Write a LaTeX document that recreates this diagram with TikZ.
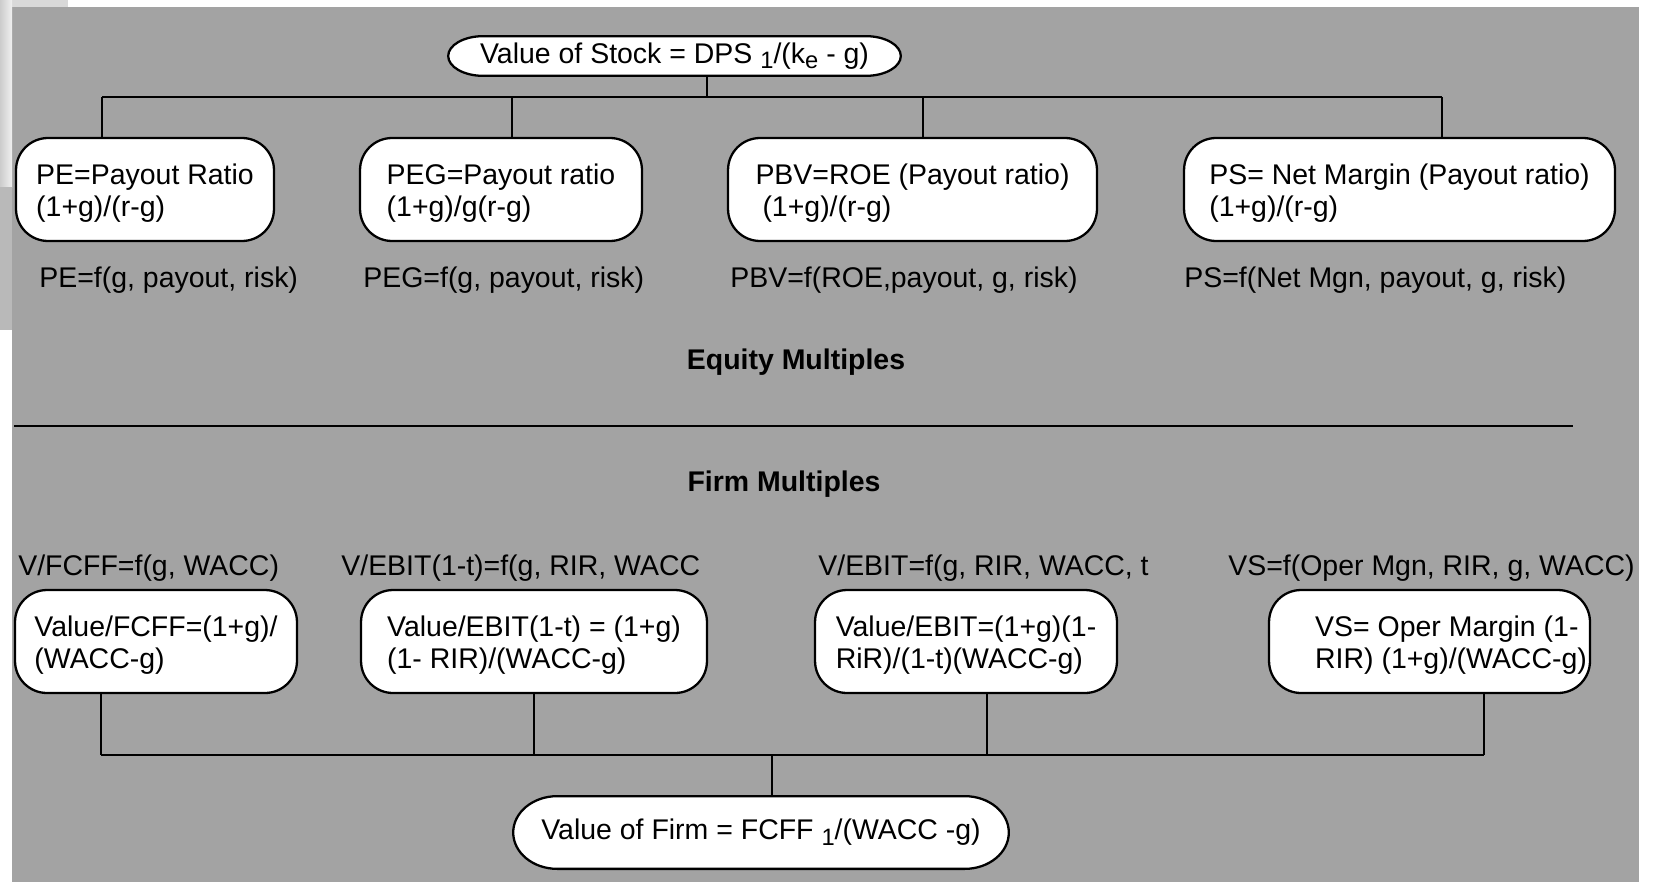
\documentclass[tikz,border=0pt]{standalone}
\usepackage{fontspec}
\setmainfont{Liberation Sans}
\definecolor{slidegray}{RGB}{163,163,163}
\newcommand{\lowsub}[1]{\raisebox{-3.2pt}{\fontsize{13.5}{13.5}\selectfont #1}}
\newcommand{\topstrut}{\rule{0pt}{15.6pt}}
\tikzset{
  mbox/.style={draw, line width=1.3pt, fill=white, rounded corners=0.64cm, align=left, inner sep=1pt, minimum height=2.06cm,
    font=\fontsize{16.2}{18}\selectfont},
  oval/.style n args={3}{inner sep=0pt, fill=slidegray, minimum width=#1, minimum height=#2,
    path picture={\draw[line width=1.3pt, fill=white]
      ([xshift=0.65pt]path picture bounding box.west)
      arc[start angle=180, end angle=90, x radius=#3, y radius={#2/2-0.65pt}]
      -- ++({#1-2*#3-1.3pt},0pt)
      arc[start angle=90, end angle=-90, x radius=#3, y radius={#2/2-0.65pt}]
      -- ++({-#1+2*#3+1.3pt},0pt)
      arc[start angle=270, end angle=180, x radius=#3, y radius={#2/2-0.65pt}] -- cycle;}},
  flabel/.style={anchor=base west, inner sep=0pt},
  heading/.style={font=\fontsize{16.2}{19}\selectfont\bfseries},
  link/.style={line width=1.1pt}
}
\begin{document}
\begin{tikzpicture}[x=0.02cm, y=-0.02cm, every node/.style={font=\fontsize{16.2}{19}\selectfont}]
\useasboundingbox (0,0) rectangle (1655,882);
\fill[slidegray] (12,7) rectangle (1639,882);
\fill[gray!30] (0,0) rectangle (68,7);
\shade[left color=gray!40, right color=gray!12] (0,0) rectangle (12,187);
\fill[gray!55] (0,187) rectangle (12,330);

% equity side
\node[oval={9.1cm}{0.84cm}{0.7cm}] (stock) at (674.5,56) {Value of Stock = DPS \lowsub{1}/(k\lowsub{e} - g)};
\node[mbox, minimum width=5.16cm] (pe) at (145,189.5) {\topstrut PE=Payout Ratio\\(1+g)/(r-g)};
\node[mbox, minimum width=5.64cm] (peg) at (501,189.5) {\topstrut PEG=Payout ratio\\(1+g)/g(r-g)};
\node[mbox, minimum width=7.38cm] (pbv) at (912.5,189.5) {\topstrut PBV=ROE (Payout ratio)\\\hspace*{0.14cm}(1+g)/(r-g)};
\node[mbox, minimum width=8.62cm] (ps) at (1399.5,189.5) {\topstrut PS= Net Margin (Payout ratio)\\(1+g)/(r-g)};
\node[flabel] (pef) at (39,287) {PE=f(g, payout, risk)};
\node[flabel] (pegf) at (363,287) {PEG=f(g, payout, risk)};
\node[flabel] (pbvf) at (730,287) {PBV=f(ROE,payout, g, risk)};
\node[flabel] (psf) at (1184,287) {PS=f(Net Mgn, payout, g, risk)};
\node[heading] (equity) at (796,362) {Equity Multiples};

\coordinate (eqbar) at (707,97);
\coordinate (e1) at (102,97);
\coordinate (e2) at (512,97);
\coordinate (e3) at (923,97);
\coordinate (e4) at (1442,97);
\draw[link] (stock.south -| eqbar) -- (eqbar);
\draw[link] (e1) -- (e4);
\foreach \c/\n in {e1/pe, e2/peg, e3/pbv, e4/ps}
  \draw[link] (\c) -- (\c |- \n.north);

\draw[line width=1.7pt] (14,426) -- (1573,426);

% firm side
\node[heading] (firm) at (784,484) {Firm Multiples};
\node[flabel] (vfcfff) at (18,575) {V/FCFF=f(g, WACC)};
\node[flabel] (vebittf) at (341,575) {V/EBIT(1-t)=f(g, RIR, WACC};
\node[flabel] (vebitf) at (818,575) {V/EBIT=f(g, RIR, WACC, t};
\node[flabel] (vsf) at (1228,575) {VS=f(Oper Mgn, RIR, g, WACC)};
\node[mbox, minimum width=5.64cm] (vfcff) at (156,641.5) {\topstrut Value/FCFF=(1+g)/\\(WACC-g)};
\node[mbox, minimum width=6.92cm] (vebitt) at (534,641.5) {\topstrut Value/EBIT(1-t) = (1+g)\\(1- RIR)/(WACC-g)};
\node[mbox, minimum width=6.04cm] (vebit) at (966,641.5) {\topstrut Value/EBIT=(1+g)(1-\\RiR)/(1-t)(WACC-g)};
\node[mbox, minimum width=6.42cm] (vs) at (1429.5,641.5) {\hspace*{0.86cm}\topstrut VS= Oper Margin (1-\\\hspace*{0.86cm}RIR) (1+g)/(WACC-g)};
\node[oval={9.96cm}{1.5cm}{0.88cm}] (value) at (761,832.5) {Value of Firm = FCFF \lowsub{1}/(WACC -g)};

\coordinate (firmbar) at (772,755);
\coordinate (f1) at (101,755);
\coordinate (f2) at (534,755);
\coordinate (f3) at (987,755);
\coordinate (f4) at (1484,755);
\draw[line width=1.6pt] (f1) -- (f4);
\foreach \c/\n in {f1/vfcff, f2/vebitt, f3/vebit, f4/vs}
  \draw[link] (\n.south -| \c) -- (\c);
\draw[link] (firmbar) -- (firmbar |- value.north);
\end{tikzpicture}
\end{document}
